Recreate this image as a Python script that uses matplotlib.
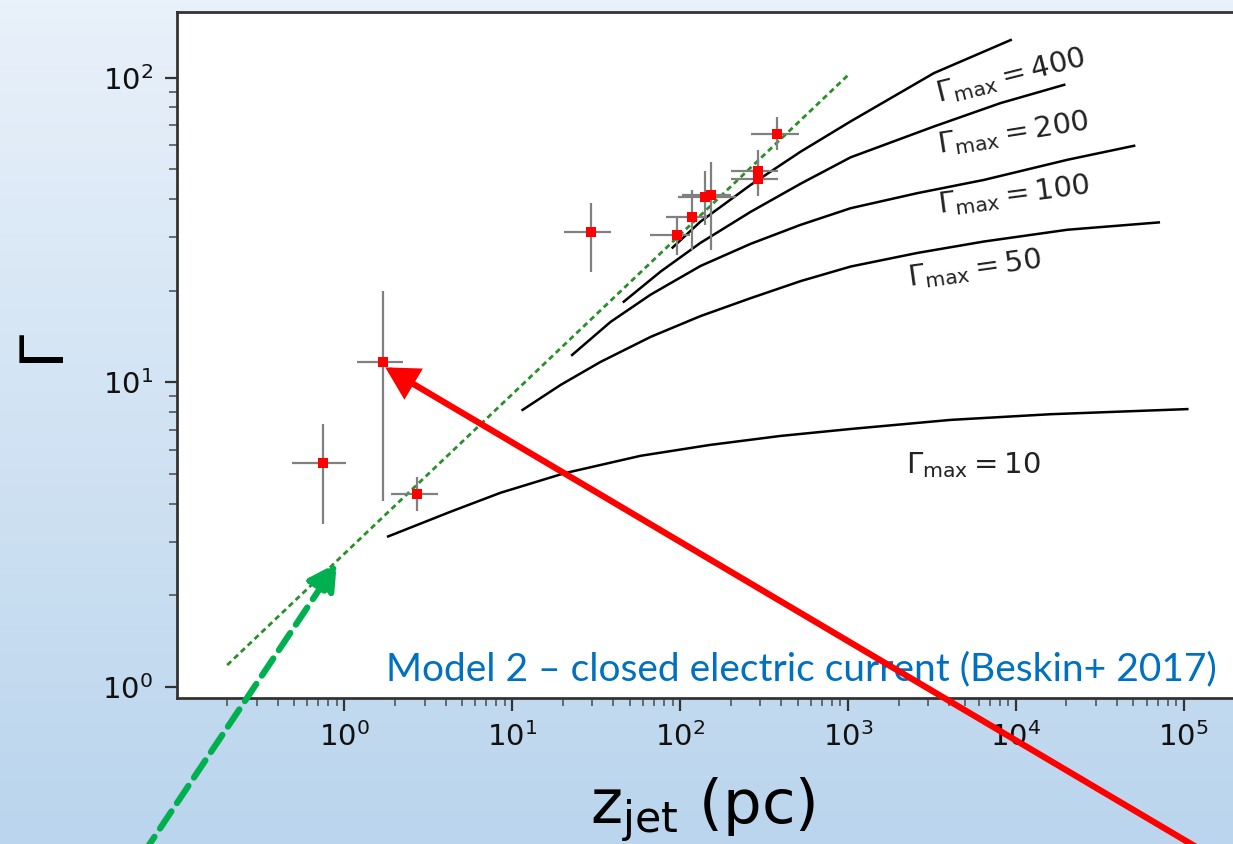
import numpy as np
import matplotlib
matplotlib.use('Agg')
import matplotlib.pyplot as plt
from matplotlib.ticker import LogLocator, NullFormatter

plt.rcParams['font.family'] = 'DejaVu Sans'
plt.rcParams['mathtext.fontset'] = 'dejavusans'

# observed jet points: distance (pc) and Lorentz factor with error ranges
z_pts = [0.74, 1.69, 2.71, 29.4, 95.2, 117, 140, 153, 292, 292, 379]
z_lo = [0.49, 1.18, 1.88, 20.2, 65.9, 82.7, 96.9, 103, 202, 202, 263]
z_hi = [1.02, 2.24, 3.62, 38.9, 115, 145, 214, 200, 380, 380, 508]
g_pts = [5.45, 11.7, 4.29, 31.1, 30.4, 35.0, 40.6, 41.3, 49.6, 46.6, 65.3]
g_lo = [3.42, 4.08, 3.77, 23.1, 26.2, 27.2, 32.9, 27.2, 43.0, 41.0, 58.0]
g_hi = [7.29, 20.0, 4.89, 38.8, 34.8, 42.8, 49.4, 52.9, 58.0, 54.0, 74.6]

# green dotted power law
z_pow = [0.2, 1000]
g_pow = [1.18, 102]

# model curves for each Gamma_max
z_m10 = [1.82, 4.28, 8.5, 20.4, 58.1, 150, 396, 1036, 4087, 1.61e4, 1.05e5]
g_m10 = [3.12, 3.76, 4.34, 5.03, 5.74, 6.23, 6.67, 7.03, 7.53, 7.86, 8.17]
z_m50 = [11.5, 19.4, 33.5, 66.6, 132, 263, 522, 1036, 2588, 6455, 2.03e4, 7.1e4]
g_m50 = [8.12, 9.81, 11.67, 14.1, 16.5, 18.9, 21.5, 24.0, 26.6, 29.0, 31.7, 33.5]
z_m100 = [22.7, 38.5, 66.6, 132, 263, 522, 1036, 2588, 6455, 2.03e4, 5.06e4]
g_m100 = [12.3, 15.8, 19.4, 24.1, 28.5, 32.9, 37.3, 41.8, 46.2, 53.8, 59.8]
z_m200 = [46.1, 76.4, 132, 263, 522, 1036, 3251, 8117, 1.94e4]
g_m200 = [18.4, 23.1, 28.7, 36.3, 44.9, 54.8, 69.2, 82.6, 94.8]
z_m400 = [90.1, 132, 263, 522, 1036, 3251, 9310]
g_m400 = [27.7, 33.7, 44.5, 57.2, 71.9, 103.6, 133]

labels = [r'$\Gamma_{\rm max} = 400$', r'$\Gamma_{\rm max} = 200$',
          r'$\Gamma_{\rm max} = 100$', r'$\Gamma_{\rm max} = 50$',
          r'$\Gamma_{\rm max} = 10$']
label_x = [3467, 3467, 3467, 2296, 2204]
label_y = [82.8, 56.7, 36.0, 20.6, 5.04]
label_rot = [14, 9, 7.5, 8, 0]

x_decades = [1, 10, 100, 1e3, 1e4, 1e5]
y_decades = [1, 10, 100]

W, H = 1233, 844
fig = plt.figure(figsize=(W / 100, H / 100), dpi=100)

# slide background gradient
bg = fig.add_axes([0, 0, 1, 1], zorder=-10)
top = np.array([233, 241, 250]) / 255
bot = np.array([186, 213, 237]) / 255
t = np.linspace(0, 1, 256)[:, None]
grad = (top * (1 - t) + bot * t)[:, None, :]
bg.imshow(grad, aspect='auto', extent=[0, 1, 0, 1])
bg.axis('off')

ax = fig.add_axes([177 / W, 146 / H, 1090.7 / W, 686.5 / H])
ax.set_xscale('log')
ax.set_yscale('log')
ax.set_xlim(0.1005, 10 ** 5.5)
ax.set_ylim(0.92, 165)
ax.set_facecolor('white')

ax.plot(z_pow, g_pow, color='#2a8f2a', lw=2, dashes=(2, 1.4), zorder=3)
for zz, gg in [(z_m10, g_m10), (z_m50, g_m50), (z_m100, g_m100),
               (z_m200, g_m200), (z_m400, g_m400)]:
    ax.plot(zz, gg, color='black', lw=1.8, zorder=2, solid_joinstyle='round')

zp = np.array(z_pts)
gp = np.array(g_pts)
ax.errorbar(zp, gp,
            xerr=[zp - np.array(z_lo), np.array(z_hi) - zp],
            yerr=[gp - np.array(g_lo), np.array(g_hi) - gp],
            fmt='s', color='red', ms=7, mew=0, ecolor='gray',
            elinewidth=1.6, capsize=0, zorder=4)

for lab, lx, ly, rot in zip(labels, label_x, label_y, label_rot):
    ax.text(lx, ly, lab, fontsize=21, rotation=rot, rotation_mode='anchor',
            ha='left', va='baseline', color='#222222', zorder=5)

ax.set_xticks(x_decades)
ax.set_yticks(y_decades)
ax.xaxis.set_minor_locator(LogLocator(base=10, subs=np.arange(2, 10), numticks=200))
ax.yaxis.set_minor_locator(LogLocator(base=10, subs=np.arange(2, 10), numticks=200))
ax.xaxis.set_minor_formatter(NullFormatter())
ax.yaxis.set_minor_formatter(NullFormatter())
ax.tick_params(which='major', direction='out', length=9, width=1.6,
               color='#333333', labelsize=21, pad=8, labelcolor='#111111')
ax.tick_params(which='minor', direction='out', length=5.5, width=1.2,
               color='#555555')
for sp in ax.spines.values():
    sp.set_linewidth(2)
    sp.set_color('#333333')

fig.text(47 / W, 1 - 351 / H, r'$\Gamma$', fontsize=44, rotation=90,
         ha='center', va='center')
fig.text(703 / W, 1 - 823 / H, r'z$_{\rm jet}$ (pc)', fontsize=44,
         ha='center', va='baseline')

note = ax.text((386 - 177) / 1090.7, (698 - 680) / 686.5,
               'Model 2 \u2013 closed electric current (Beskin+ 2017)',
               transform=ax.transAxes, fontsize=28, color='#0070C0',
               family='Lato', ha='left', va='baseline', zorder=6)
fig.canvas.draw()
wpx = note.get_window_extent().width
note.set_fontsize(28 * 832 / wpx)

# slide arrows
ax.annotate('', xy=(1.75, 11.2), xycoords='data',
            xytext=(1208 / W, -10 / H), textcoords='figure fraction',
            annotation_clip=False, zorder=10,
            arrowprops=dict(arrowstyle='-|>,head_length=0.6,head_width=0.33',
                            mutation_scale=28, lw=4.5, color='#ff0000',
                            shrinkA=0, shrinkB=0, joinstyle='miter'))
ax.annotate('', xy=(0.9, 2.55), xycoords='data',
            xytext=(143 / W, -10 / H), textcoords='figure fraction',
            annotation_clip=False, zorder=10,
            arrowprops=dict(arrowstyle='-|>,head_length=0.6,head_width=0.33',
                            mutation_scale=28, lw=4.5, color='#00b050',
                            linestyle=(0, (3.3, 1.6)),
                            shrinkA=0, shrinkB=0, joinstyle='miter'))

fig.savefig('out.png', dpi=100)
